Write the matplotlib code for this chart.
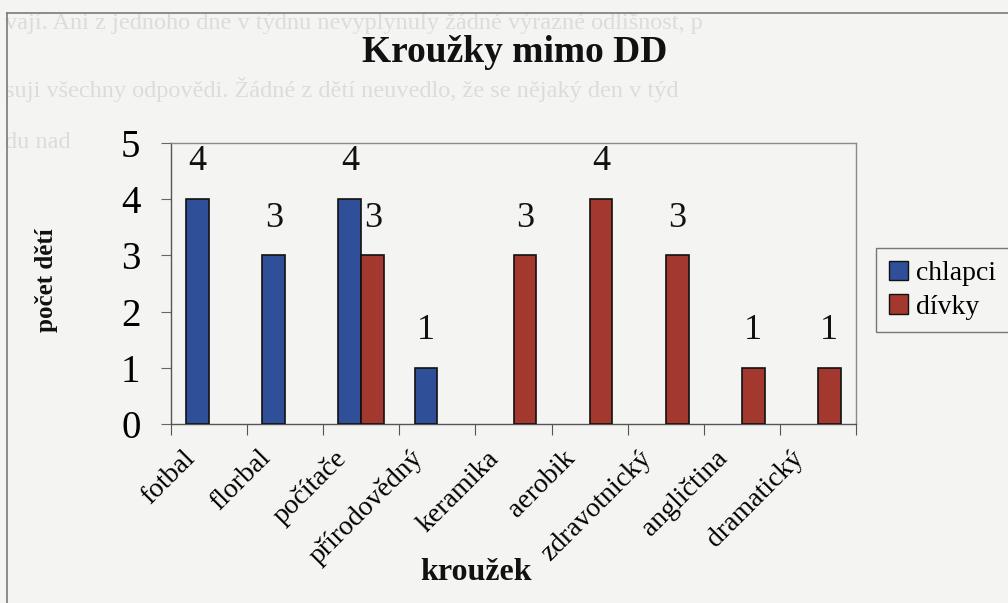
import matplotlib
matplotlib.use("Agg")
import matplotlib.pyplot as plt
import numpy as np
from matplotlib.lines import Line2D
from matplotlib.patches import Patch
from matplotlib.transforms import ScaledTranslation

plt.rcParams['font.family'] = ['Liberation Serif', 'DejaVu Serif']

# ---- data ----
categories = ["fotbal", "florbal", "počítače", "přírodovědný", "keramika",
              "aerobik", "zdravotnický", "angličtina", "dramatický"]
chlapci = [4, 3, 4, 1, 0, 0, 0, 0, 0]
divky = [0, 0, 3, 0, 3, 4, 3, 1, 1]
series_names = ["chlapci", "dívky"]
y_ticks = [0, 1, 2, 3, 4, 5]
title = "Kroužky mimo DD"
xlabel = "kroužek"
ylabel = "počet dětí"
bleed_lines = [
    "vají. Ani z jednoho dne v týdnu nevyplynuly žádné výrazné odlišnost, p",
    "suji všechny odpovědi. Žádné z dětí neuvedlo, že se nějaký den v týd",
    "du nad",
]

# ---- style ----
W, H, DPI = 1008, 603, 100
bg = "#f4f4f2"
blue = "#2f4f98"
red = "#a3382e"
edge = "#111111"

fig = plt.figure(figsize=(W / DPI, H / DPI), dpi=DPI, facecolor=bg)

# faint bleed-through text of the scanned page
bleed_y = [23, 89, 143]
for txt, yy in zip(bleed_lines, bleed_y):
    fig.text(5 / W, 1 - yy / H, txt, fontsize=17.5, color="#dcdcda",
             ha="left", va="center", zorder=0)

# outer chart border (left and top visible)
fig.add_artist(Line2D([7 / W, 7 / W], [0, 1 - 13 / H], color="#7a7a7a", lw=1.2))
fig.add_artist(Line2D([7 / W, 1], [1 - 13 / H, 1 - 13 / H], color="#7a7a7a", lw=1.2))

left, right = 171 / W, 856 / W
bottom, top = 1 - 424 / H, 1 - 143 / H
ax = fig.add_axes([left, bottom, right - left, top - bottom])
ax.set_facecolor("none")

x = np.arange(len(categories))
bw = 0.30
b1 = ax.bar(x - bw / 2, chlapci, bw, color=blue, edgecolor=edge, lw=1.2, zorder=3)
b2 = ax.bar(x + bw / 2, divky, bw, color=red, edgecolor=edge, lw=1.2, zorder=3)
for bars in (b1, b2):
    for p in bars.patches:
        if p.get_height() == 0:
            p.set_visible(False)

ax.bar_label(b1, labels=[str(v) if v else "" for v in chlapci], padding=15,
             fontsize=26, color="#111111")
ax.bar_label(b2, labels=[str(v) if v else "" for v in divky], padding=15,
             fontsize=26, color="#111111")

ax.set_xlim(-0.5, len(categories) - 0.5)
ax.set_ylim(0, 5)
ax.set_yticks(y_ticks)
ax.set_yticklabels([str(t) for t in y_ticks], fontsize=28)
ax.tick_params(axis="y", length=7, width=0.8, color="#666666", pad=15)

ax.set_xticks(x)
ax.set_xticklabels(categories, fontsize=20, rotation=45, ha="right",
                   va="center", rotation_mode="anchor")
ax.tick_params(axis="x", which="major", length=0, pad=22)
ax.set_xticks(np.arange(len(categories) + 1) - 0.5, minor=True)
ax.tick_params(axis="x", which="minor", length=8, width=0.8, color="#555555")
for lab in ax.get_xticklabels():
    lab.set_transform(lab.get_transform() + ScaledTranslation(-18 / DPI, 0, fig.dpi_scale_trans))

for side in ["top", "right"]:
    ax.spines[side].set_color("#8a8a8a")
    ax.spines[side].set_linewidth(1.0)
for side in ["left", "bottom"]:
    ax.spines[side].set_color("#555555")
    ax.spines[side].set_linewidth(1.0)

fig.text(515 / W, 1 - 53 / H, title, fontsize=27, fontweight="bold",
         ha="center", va="center", color="#111111")
fig.text(47 / W, 1 - 280 / H, ylabel, fontsize=18, fontweight="bold",
         rotation=90, ha="center", va="center", color="#111111")
fig.text(476 / W, 1 - 572 / H, xlabel, fontsize=23, fontweight="bold",
         ha="center", va="center", color="#111111")

handles = [Patch(facecolor=blue, edgecolor=edge, lw=1.0),
           Patch(facecolor=red, edgecolor=edge, lw=1.0)]
leg = fig.legend(handles=handles, labels=series_names, loc="upper left",
                 bbox_to_anchor=(876 / W, 1 - 248 / H), fontsize=20,
                 frameon=True, fancybox=False, edgecolor="#777777",
                 facecolor=bg, framealpha=1, handlelength=0.7,
                 handleheight=0.7, handletextpad=0.3, borderpad=0.45,
                 labelspacing=0.3, borderaxespad=0)
leg.get_frame().set_linewidth(1.0)

fig.savefig("out.png", dpi=DPI, facecolor=bg)
